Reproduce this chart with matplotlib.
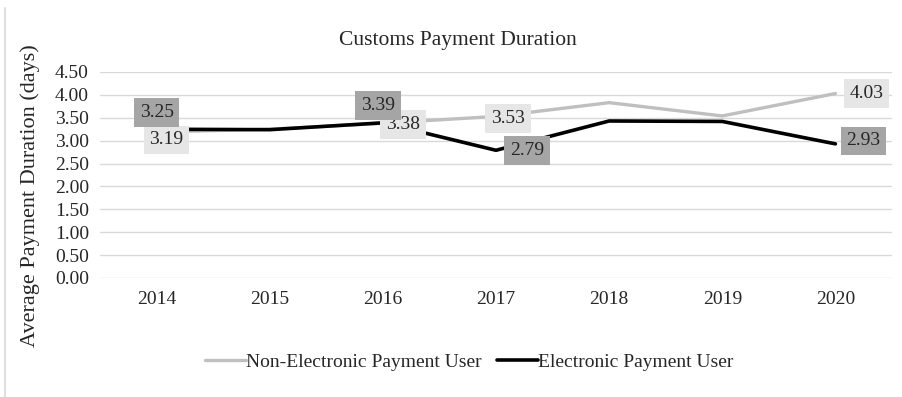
import matplotlib
matplotlib.use("Agg")
import matplotlib.pyplot as plt
from matplotlib.lines import Line2D

plt.rcParams['font.family'] = ['Liberation Serif', 'DejaVu Serif']

years = ["2014", "2015", "2016", "2017", "2018", "2019", "2020"]
non_electronic = [3.19, 3.25, 3.38, 3.53, 3.83, 3.54, 4.03]
electronic = [3.25, 3.24, 3.39, 2.79, 3.43, 3.42, 2.93]
y_ticks = [0.0, 0.5, 1.0, 1.5, 2.0, 2.5, 3.0, 3.5, 4.0, 4.5]

# indices of labelled points and their label offsets (pixels)
non_labels = {0: (10, -8), 2: (20, -1), 3: (12, -2), 6: (31, 0)}
elec_labels = {0: (0, 17), 2: (-5, 17), 3: (31, 0), 6: (28, 3)}

fig = plt.figure(figsize=(9.02, 3.97), dpi=100)
ax = fig.add_axes([100 / 902, 1 - 278 / 397, 792 / 902, 206 / 397])

x = list(range(len(years)))
ax.plot(x, non_electronic, color="#bfbfbf", lw=2.4, zorder=3,
        label="Non-Electronic Payment User", solid_capstyle="round")
ax.plot(x, electronic, color="#000000", lw=2.6, zorder=4,
        label="Electronic Payment User", solid_capstyle="round")

for i, (dx, dy) in non_labels.items():
    ax.annotate(f"{non_electronic[i]:.2f}", (i, non_electronic[i]),
                xytext=(dx, dy), textcoords="offset pixels",
                ha="center", va="center", fontsize=14, color="#262626",
                bbox=dict(boxstyle="square,pad=0.3", fc="#e7e6e6", ec="none"),
                zorder=6)
for i, (dx, dy) in elec_labels.items():
    ax.annotate(f"{electronic[i]:.2f}", (i, electronic[i]),
                xytext=(dx, dy), textcoords="offset pixels",
                ha="center", va="center", fontsize=14, color="#262626",
                bbox=dict(boxstyle="square,pad=0.3", fc="#a5a5a5", ec="none"),
                zorder=7)

ax.set_xlim(-0.5, len(years) - 0.5)
ax.set_ylim(0, 4.5)
ax.set_xticks(x)
ax.set_xticklabels(years)
ax.set_yticks(y_ticks)
ax.set_yticklabels([f"{v:.2f}" for v in y_ticks])
ax.tick_params(axis="both", length=0, labelsize=14, colors="#262626")
ax.tick_params(axis="x", pad=9)
ax.tick_params(axis="y", pad=8)
ax.grid(axis="y", color="#d9d9d9", lw=1)
ax.set_axisbelow(True)
for s in ax.spines.values():
    s.set_visible(False)

fig.text(30 / 902, 1 - 196 / 397, "Average Payment Duration (days)", rotation=90,
         ha="center", va="center", fontsize=16, color="#262626")
fig.text(458 / 902, 1 - 40 / 397, "Customs Payment Duration", ha="center", va="center",
         fontsize=15.5, color="#262626")

ax.legend(loc="center", bbox_to_anchor=(469 / 902, 1 - 362 / 397),
          bbox_transform=fig.transFigure, ncol=2, frameon=False, fontsize=14,
          handlelength=2.1, handletextpad=0.0, columnspacing=0.8,
          labelcolor="#262626")

# chart area border on the left
fig.add_artist(Line2D([5 / 902, 5 / 902], [0, 1 - 8 / 397], color="#d9d9d9", lw=1.2))

fig.savefig("out.png", dpi=100)
